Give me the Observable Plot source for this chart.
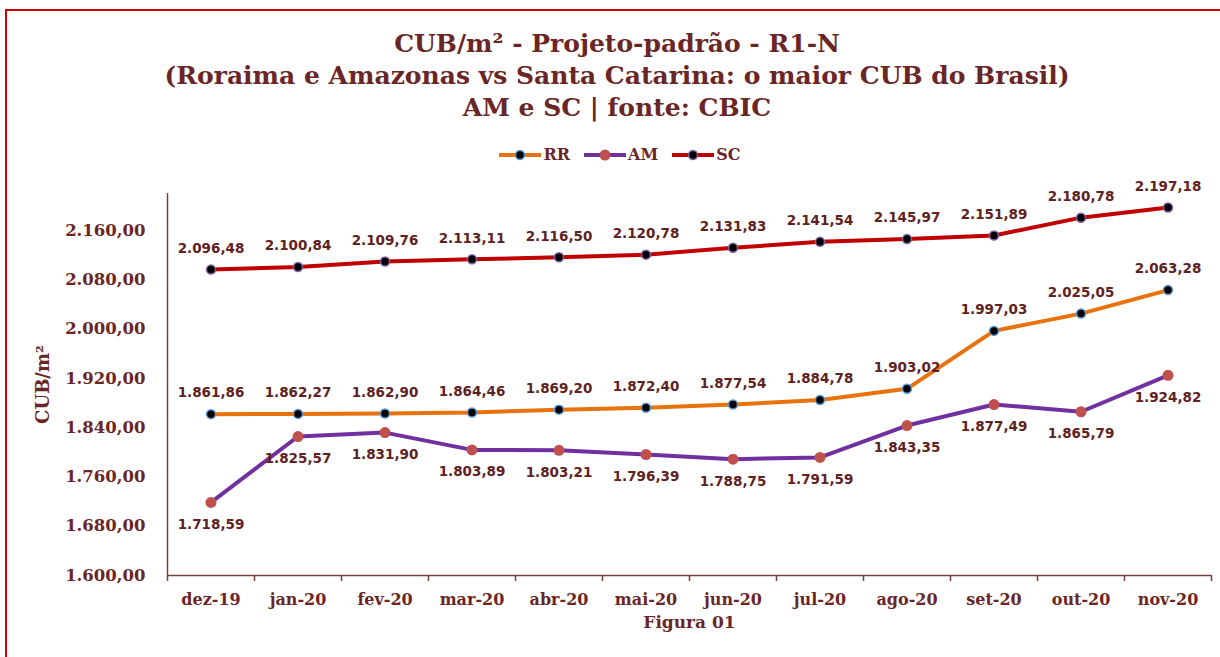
<!DOCTYPE html>
<html>
<head>
<meta charset="utf-8">
<script src="https://cdn.jsdelivr.net/npm/d3@7"></script>
<script src="https://cdn.jsdelivr.net/npm/@observablehq/plot@0.6"></script>
<style>
  html, body { margin: 0; padding: 0; background: #fff; }
  #page { position: relative; width: 1220px; height: 657px; overflow: hidden; background: #fff; }
  #border { position: absolute; left: 5px; top: 9px; width: 1300px; height: 700px; border-left: 2px solid #d20000; border-top: 2px solid #d20000; }
  #title { position: absolute; left: 0; top: 28px; width: 1234px; text-align: center;
    font-family: "DejaVu Serif", serif; font-weight: bold; font-size: 25px; line-height: 32px; color: #6a2626; }
  #legend { position: absolute; top: 145px; left: 0; width: 1240px; display: flex; justify-content: center; gap: 14px;
    font-family: "DejaVu Serif", serif; font-weight: bold; font-size: 16px; color: #6a2626; }
  #legend .item { display: flex; align-items: center; gap: 2px; }
  #chart { position: absolute; left: 0; top: 170px; }
</style>
</head>
<body>
<div id="page">
  <div id="border"></div>
  <div id="title"></div>
  <div id="legend"></div>
  <div id="chart"></div>
</div>
<script>
const titleLines = [
  "CUB/m² - Projeto-padrão - R1-N",
  "(Roraima e Amazonas vs Santa Catarina: o maior CUB do Brasil)",
  "AM e SC | fonte: CBIC"
];
const months = ["dez-19","jan-20","fev-20","mar-20","abr-20","mai-20","jun-20","jul-20","ago-20","set-20","out-20","nov-20"];
const rr = [1861.86,1862.27,1862.90,1864.46,1869.20,1872.40,1877.54,1884.78,1903.02,1997.03,2025.05,2063.28];
const am = [1718.59,1825.57,1831.90,1803.89,1803.21,1796.39,1788.75,1791.59,1843.35,1877.49,1865.79,1924.82];
const sc = [2096.48,2100.84,2109.76,2113.11,2116.50,2120.78,2131.83,2141.54,2145.97,2151.89,2180.78,2197.18];
const yTicks = [1600,1680,1760,1840,1920,2000,2080,2160];
const seriesNames = ["RR","AM","SC"];
const yTitle = "CUB/m²";
const caption = "Figura 01";

const C = {
  text: "#6a2626", label: "#5e2222", axis: "#73403f",
  rrLine: "#e8720c", rrDot: "#000", rrDotStroke: "#5b9bd5",
  amLine: "#7030a0", amDot: "#c0504d",
  scLine: "#c00000", scDot: "#000", scDotStroke: "#8064a2"
};

document.getElementById("title").innerHTML = titleLines.map(t => `<div>${t}</div>`).join("");

const legendSpec = [
  {name: seriesNames[0], line: C.rrLine, fill: C.rrDot, stroke: C.rrDotStroke, r: 4.5},
  {name: seriesNames[1], line: C.amLine, fill: C.amDot, stroke: "none", r: 5.5},
  {name: seriesNames[2], line: C.scLine, fill: C.scDot, stroke: C.scDotStroke, r: 4.5}
];
document.getElementById("legend").innerHTML = legendSpec.map(s => `
  <div class="item"><svg width="42" height="14"><line x1="0" x2="42" y1="7" y2="7" stroke="${s.line}" stroke-width="4"/>
  <circle cx="21" cy="7" r="${s.r}" fill="${s.fill}" stroke="${s.stroke}" stroke-width="1.5"/></svg><span>${s.name}</span></div>`).join("");

const fmt = d3.formatLocale({decimal: ",", thousands: ".", grouping: [3], currency: ["R$ ", ""]}).format(",.2f");
const rows = arr => arr.map((v, i) => ({x: i + 0.5, v}));
const rrRows = rows(rr), amRows = rows(am), scRows = rows(sc);

const labelOpts = {fontFamily: "DejaVu Sans, Verdana, sans-serif", fontWeight: "bold", fontSize: 13.5, fill: C.label};

const chart = Plot.plot({
  width: 1220,
  height: 470,
  marginTop: 23,
  marginBottom: 65,
  marginLeft: 167,
  marginRight: 9,
  style: {fontFamily: "DejaVu Serif, serif", fontWeight: "bold", fontSize: "16px", color: C.text, background: "transparent"},
  x: {type: "linear", domain: [0, months.length]},
  y: {domain: [1600, 2220]},
  marks: [
    Plot.axisY({ticks: yTicks, tickSize: 0, tickPadding: 22, tickFormat: fmt, label: null,
      fontSize: 16.5, fontFamily: "DejaVu Serif, serif", fontWeight: "bold", fill: C.text}),
    Plot.axisX({ticks: d3.range(months.length + 1), tickSize: 6, tickFormat: () => "", label: null, stroke: C.axis, strokeWidth: 1.5}),
    Plot.axisX({ticks: months.map((m, i) => i + 0.5), tickSize: 0, tickPadding: 18, tickFormat: d => months[Math.floor(d)], label: null,
      fontSize: 16, fontFamily: "DejaVu Serif, serif", fontWeight: "bold", fill: C.text}),
    Plot.ruleX([0], {stroke: C.axis, strokeWidth: 1.5}),
    Plot.ruleY([1600], {stroke: C.axis, strokeWidth: 1.5}),
    Plot.text([yTitle], {frameAnchor: "left", textAnchor: "middle", lineAnchor: "middle", dx: -124, rotate: -90,
      fontSize: 18, fontFamily: "DejaVu Serif, serif", fontWeight: "bold", fill: C.text}),
    Plot.text([caption], {frameAnchor: "bottom", textAnchor: "middle", lineAnchor: "middle", dy: 47,
      fontSize: 17, fontFamily: "DejaVu Serif, serif", fontWeight: "bold", fill: C.text}),

    Plot.line(scRows, {x: "x", y: "v", stroke: C.scLine, strokeWidth: 4}),
    Plot.line(rrRows, {x: "x", y: "v", stroke: C.rrLine, strokeWidth: 4}),
    Plot.line(amRows, {x: "x", y: "v", stroke: C.amLine, strokeWidth: 4}),
    Plot.dot(scRows, {x: "x", y: "v", r: 4.5, fill: C.scDot, stroke: C.scDotStroke, strokeWidth: 1.5}),
    Plot.dot(rrRows, {x: "x", y: "v", r: 4.5, fill: C.rrDot, stroke: C.rrDotStroke, strokeWidth: 1.5}),
    Plot.dot(amRows, {x: "x", y: "v", r: 5.5, fill: C.amDot}),
    Plot.text(scRows, {x: "x", y: "v", text: d => fmt(d.v), dy: -21, ...labelOpts}),
    Plot.text(rrRows, {x: "x", y: "v", text: d => fmt(d.v), dy: -21, ...labelOpts}),
    Plot.text(amRows, {x: "x", y: "v", text: d => fmt(d.v), dy: 22, ...labelOpts})
  ]
});
document.getElementById("chart").appendChild(chart);
</script>
</body>
</html>
